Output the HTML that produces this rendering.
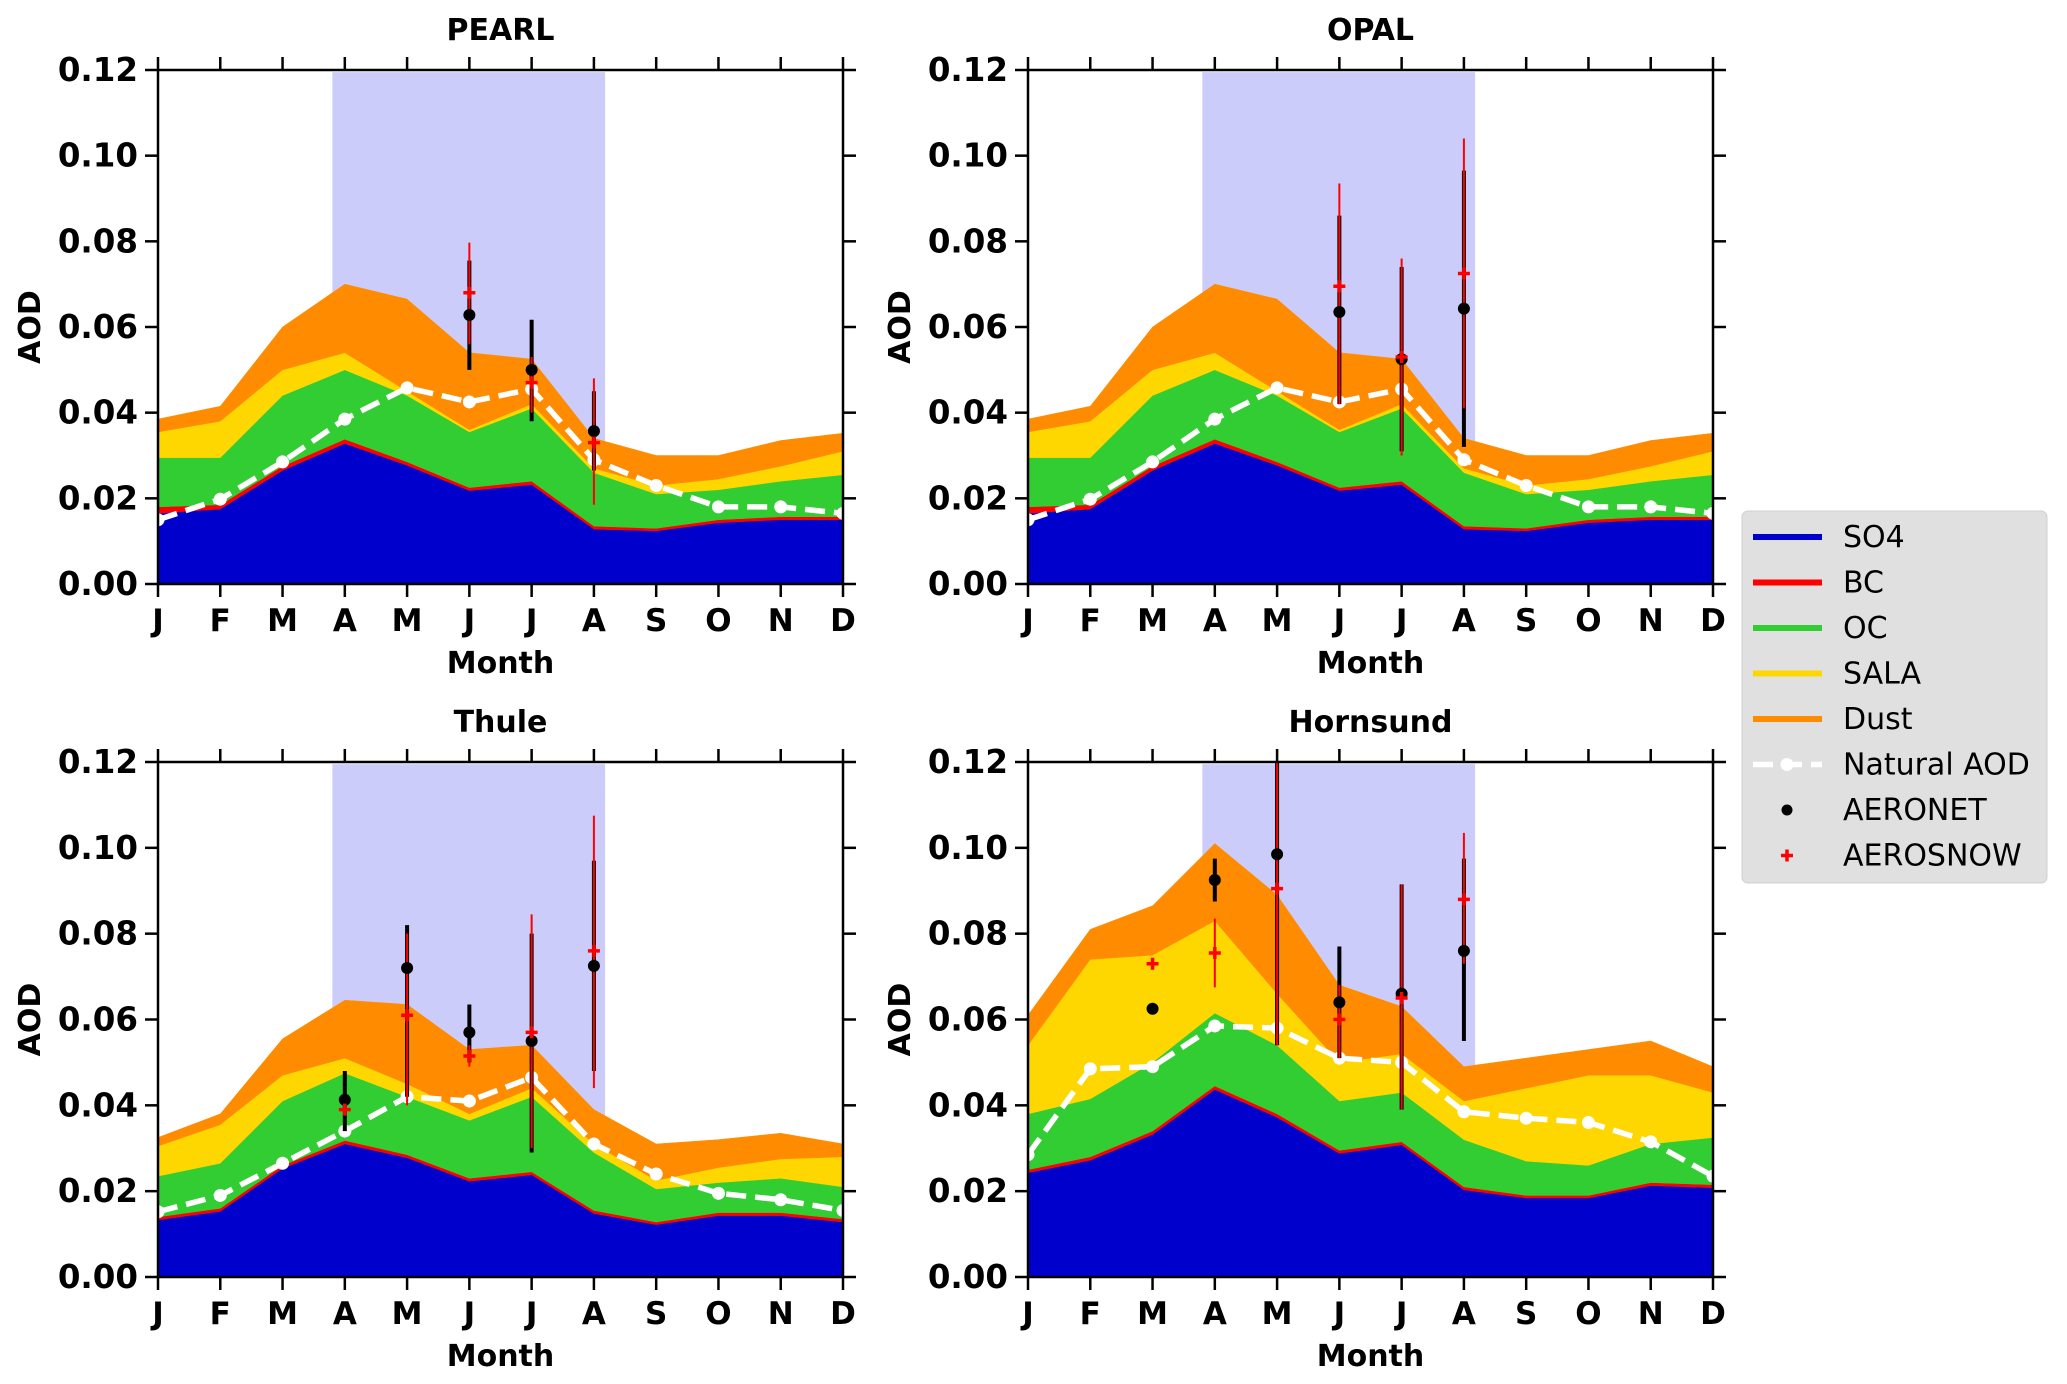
<!DOCTYPE html>
<html><head><meta charset="utf-8"><style>
body{margin:0;background:#fff;}
svg{display:block;font-family:"DejaVu Sans","Liberation Sans",sans-serif;}
</style></head><body>
<svg id="fig" width="2067" height="1384" viewBox="0 0 2067 1384" xmlns="http://www.w3.org/2000/svg"></svg>
<script>
const months=["J","F","M","A","M","J","J","A","S","O","N","D"];
const yTicks=[0,0.02,0.04,0.06,0.08,0.10,0.12];
const yTickLabels=["0.00","0.02","0.04","0.06","0.08","0.10","0.12"];
const panelNames=["PEARL","OPAL","Thule","Hornsund"];
// cumulative tops
const pearlSO4=[0.0165,0.0175,0.0265,0.0328,0.0277,0.0218,0.0232,0.0128,0.0124,0.0143,0.0150,0.0150];
const pearlBC=[0.0180,0.0185,0.0275,0.0338,0.0285,0.0225,0.0240,0.0135,0.0130,0.0150,0.0157,0.0157];
const pearlOC=[0.0295,0.0295,0.044,0.050,0.044,0.0355,0.041,0.026,0.021,0.022,0.024,0.0255];
const pearlSALA=[0.0355,0.038,0.050,0.054,0.045,0.036,0.042,0.027,0.023,0.0245,0.0275,0.031];
const pearlDust=[0.0385,0.0415,0.060,0.070,0.0665,0.054,0.0525,0.034,0.030,0.030,0.0335,0.0352];
const pearlNat=[0.015,0.0198,0.0285,0.0385,0.0458,0.0425,0.0455,0.029,0.023,0.018,0.018,0.0165];
const thuleSO4=[0.0133,0.0153,0.0253,0.0310,0.0278,0.0223,0.0238,0.0148,0.0122,0.0143,0.0143,0.0128];
const thuleBC=[0.014,0.016,0.026,0.0318,0.0285,0.023,0.0245,0.0155,0.0128,0.015,0.015,0.0135];
const thuleOC=[0.0235,0.0265,0.041,0.0475,0.042,0.0365,0.042,0.029,0.0205,0.022,0.023,0.021];
const thuleSALA=[0.0305,0.0355,0.047,0.051,0.045,0.038,0.044,0.031,0.0225,0.0255,0.0275,0.028];
const thuleDust=[0.0325,0.038,0.0555,0.0645,0.0635,0.053,0.054,0.039,0.031,0.032,0.0335,0.031];
const thuleNat=[0.0152,0.019,0.0265,0.034,0.042,0.041,0.0465,0.031,0.024,0.0195,0.018,0.0155];
const hornSO4=[0.0243,0.0272,0.0332,0.0437,0.0372,0.0288,0.0308,0.0203,0.0184,0.0184,0.0213,0.0208];
const hornBC=[0.025,0.028,0.034,0.0445,0.038,0.0295,0.0315,0.021,0.019,0.019,0.022,0.0215];
const hornOC=[0.038,0.0415,0.050,0.0615,0.054,0.041,0.043,0.032,0.027,0.026,0.031,0.0325];
const hornSALA=[0.054,0.074,0.075,0.083,0.066,0.050,0.052,0.041,0.044,0.047,0.047,0.043];
const hornDust=[0.061,0.081,0.0865,0.101,0.089,0.068,0.063,0.049,0.051,0.053,0.055,0.049];
const hornNat=[0.0285,0.0485,0.049,0.0585,0.058,0.051,0.050,0.0385,0.037,0.036,0.0315,0.0235];
// observations: month index, value, low, high (null = no error bar)
const pearlAeronet=[[5,0.0628,0.050,0.0755],[6,0.050,0.038,0.0617],[7,0.0357,0.0265,0.045]];
const pearlAerosnow=[[5,0.068,0.056,0.0797],[6,0.047,0.040,0.053],[7,0.033,0.0185,0.048]];
const opalAeronet=[[5,0.0635,0.042,0.086],[6,0.0525,0.031,0.074],[7,0.0643,0.032,0.0965]];
const opalAerosnow=[[5,0.0695,0.042,0.0935],[6,0.053,0.030,0.076],[7,0.0725,0.041,0.104]];
const thuleAeronet=[[3,0.0413,0.034,0.048],[4,0.072,0.042,0.082],[5,0.057,0.050,0.0635],[6,0.055,0.029,0.080],[7,0.0725,0.048,0.097]];
const thuleAerosnow=[[3,0.039,null,null],[4,0.061,0.040,0.080],[5,0.0515,0.049,0.054],[6,0.057,0.030,0.0845],[7,0.076,0.044,0.1075]];
const hornAeronet=[[2,0.0625,null,null],[3,0.0925,0.0875,0.0975],[4,0.0985,0.054,0.12],[5,0.064,0.051,0.077],[6,0.066,0.039,0.0915],[7,0.076,0.055,0.0975]];
const hornAerosnow=[[2,0.073,null,null],[3,0.0755,0.0675,0.0835],[4,0.0905,0.054,0.12],[5,0.060,0.051,0.068],[6,0.065,0.039,0.0915],[7,0.088,0.073,0.1035]];
const shadeStart=2.8, shadeEnd=7.18, shadeTop=0.1195;

const panels=[
 {name:"PEARL",x0:158,x1:843,y0:70,y1:584,so4:pearlSO4,bc:pearlBC,oc:pearlOC,sala:pearlSALA,dust:pearlDust,nat:pearlNat,aer:pearlAeronet,snow:pearlAerosnow},
 {name:"OPAL",x0:1028,x1:1713,y0:70,y1:584,so4:pearlSO4,bc:pearlBC,oc:pearlOC,sala:pearlSALA,dust:pearlDust,nat:pearlNat,aer:opalAeronet,snow:opalAerosnow},
 {name:"Thule",x0:158,x1:843,y0:762,y1:1277,so4:thuleSO4,bc:thuleBC,oc:thuleOC,sala:thuleSALA,dust:thuleDust,nat:thuleNat,aer:thuleAeronet,snow:thuleAerosnow},
 {name:"Hornsund",x0:1028,x1:1713,y0:762,y1:1277,so4:hornSO4,bc:hornBC,oc:hornOC,sala:hornSALA,dust:hornDust,nat:hornNat,aer:hornAeronet,snow:hornAerosnow}
];
const NS="http://www.w3.org/2000/svg";
const svg=document.getElementById('fig');
function mk(tag,attrs,parent){const e=document.createElementNS(NS,tag);for(const k in attrs)e.setAttribute(k,attrs[k]);(parent||svg).appendChild(e);return e;}

panels.forEach(p=>{
  const g=mk('g',{});
  
  
  const X=i=>p.x0+(p.x1-p.x0)*i/11;
  const Y=v=>p.y1-(p.y1-p.y0)*v/0.12;
  const sh=mk('rect',{x:X(shadeStart),y:Y(shadeTop),width:X(shadeEnd)-X(shadeStart),height:Y(0)-Y(shadeTop),fill:'#ccccfb'},g);
  
  
  const layers=[[null,p.so4,'#0000cd','so4-area'],[p.so4,p.bc,'#ff0000','bc-area'],[p.bc,p.oc,'#32cd32','oc-area'],[p.oc,p.sala,'#ffd700','sala-area'],[p.sala,p.dust,'#ff8c00','dust-area']];
  layers.forEach(([lo,hi,col,nm])=>{
    let d='';
    hi.forEach((v,i)=>{d+=(i?'L':'M')+X(i)+','+Y(v);});
    for(let i=11;i>=0;i--){d+='L'+X(i)+','+Y(lo?lo[i]:0);}
    const a=mk('path',{d:d+'Z',fill:col,stroke:col,'stroke-width':0.5},g);
    
    
  });
  const nl=mk('polyline',{points:p.nat.map((v,i)=>X(i)+','+Y(v)).join(' '),fill:'none',stroke:'#fff','stroke-width':5.5,'stroke-dasharray':'20,9'},g);
  
  
  p.nat.forEach((v,i)=>{
    const c=mk('circle',{cx:X(i),cy:Y(v),r:6.5,fill:'#fff'},g);
    
    
  });
  p.aer.forEach(o=>{
    if(o[2]!==null){
      const l=mk('line',{x1:X(o[0]),x2:X(o[0]),y1:Y(o[2]),y2:Y(o[3]),stroke:'#000','stroke-width':4},g);
      
      
    }
  });
  p.snow.forEach(o=>{
    if(o[2]!==null){
      const l=mk('line',{x1:X(o[0]),x2:X(o[0]),y1:Y(o[2]),y2:Y(o[3]),stroke:'#ff0000','stroke-width':2},g);
      
      
    }
  });
  p.aer.forEach(o=>{
    const c=mk('circle',{cx:X(o[0]),cy:Y(o[1]),r:6,fill:'#000'},g);
    
    
  });
  p.snow.forEach(o=>{
    const x=X(o[0]),y=Y(o[1]);
    const c=mk('path',{d:`M${x-6},${y}H${x+6}M${x},${y-6}V${y+6}`,stroke:'#ff0000','stroke-width':3.5},g);
    
    
  });
  const fr=mk('rect',{x:p.x0,y:p.y0,width:p.x1-p.x0,height:p.y1-p.y0,fill:'none',stroke:'#000','stroke-width':2.5},g);
  
  
  yTicks.forEach((t,k)=>{
    const y=Y(t);
    mk('line',{x1:p.x0-13,x2:p.x0,y1:y,y2:y,stroke:'#000','stroke-width':2.5},g);
    mk('line',{x1:p.x1,x2:p.x1+13,y1:y,y2:y,stroke:'#000','stroke-width':2.5},g);
    const tx=mk('text',{x:p.x0-20,y:y+11,'text-anchor':'end','font-size':32.5,'font-weight':'bold'},g);
    tx.textContent=yTickLabels[k];
    
    
  });
  months.forEach((m,i)=>{
    const x=X(i);
    mk('line',{x1:x,x2:x,y1:p.y1,y2:p.y1+13,stroke:'#000','stroke-width':2.5},g);
    mk('line',{x1:x,x2:x,y1:p.y0-13,y2:p.y0,stroke:'#000','stroke-width':2.5},g);
    const tx=mk('text',{x:x,y:p.y1+47,'text-anchor':'middle','font-size':31,'font-weight':'bold'},g);
    tx.textContent=m;
    
    
  });
  const xt=mk('text',{x:(p.x0+p.x1)/2,y:p.y1+89,'text-anchor':'middle','font-size':30,'font-weight':'bold'},g);
  xt.textContent='Month';
  
  
  const yc=(p.y0+p.y1)/2, yx=p.x0-118;
  const yt=mk('text',{x:yx,y:yc,'text-anchor':'middle','font-size':30,'font-weight':'bold',transform:`rotate(-90 ${yx} ${yc})`},g);
  yt.textContent='AOD';
  
  
  const tt=mk('text',{x:(p.x0+p.x1)/2,y:p.y0-30,'text-anchor':'middle','font-size':30,'font-weight':'bold'},g);
  tt.textContent=p.name;
  
  
});

const lg=mk('g',{});


mk('rect',{x:1742,y:511,width:305,height:372,rx:6,fill:'#e0e0e0',stroke:'#d0d0d0'},lg);
const legendLabels=["SO4","BC","OC","SALA","Dust","Natural AOD","AERONET","AEROSNOW"];
const legendColors=['#0000cd','#ff0000','#32cd32','#ffd700','#ff8c00'];
legendLabels.forEach((lab,k)=>{
  const y=537+k*45.5;
  const eg=mk('g',{},lg);
  
  
  if(k<5) mk('line',{x1:1753,x2:1822,y1:y,y2:y,stroke:legendColors[k],'stroke-width':6},eg);
  else if(k===5){mk('line',{x1:1753,x2:1822,y1:y,y2:y,stroke:'#fff','stroke-width':5.5,'stroke-dasharray':'20,9'},eg);mk('circle',{cx:1787,cy:y,r:6.5,fill:'#fff'},eg);}
  else if(k===6) mk('circle',{cx:1787,cy:y,r:5.5,fill:'#000'},eg);
  else mk('path',{d:`M1781,${y}H1793M1787,${y-6}V${y+6}`,stroke:'#ff0000','stroke-width':3.5},eg);
  const t=mk('text',{x:1843,y:y+10,'font-size':30},eg);
  t.textContent=lab;
});
</script>
</body></html>
